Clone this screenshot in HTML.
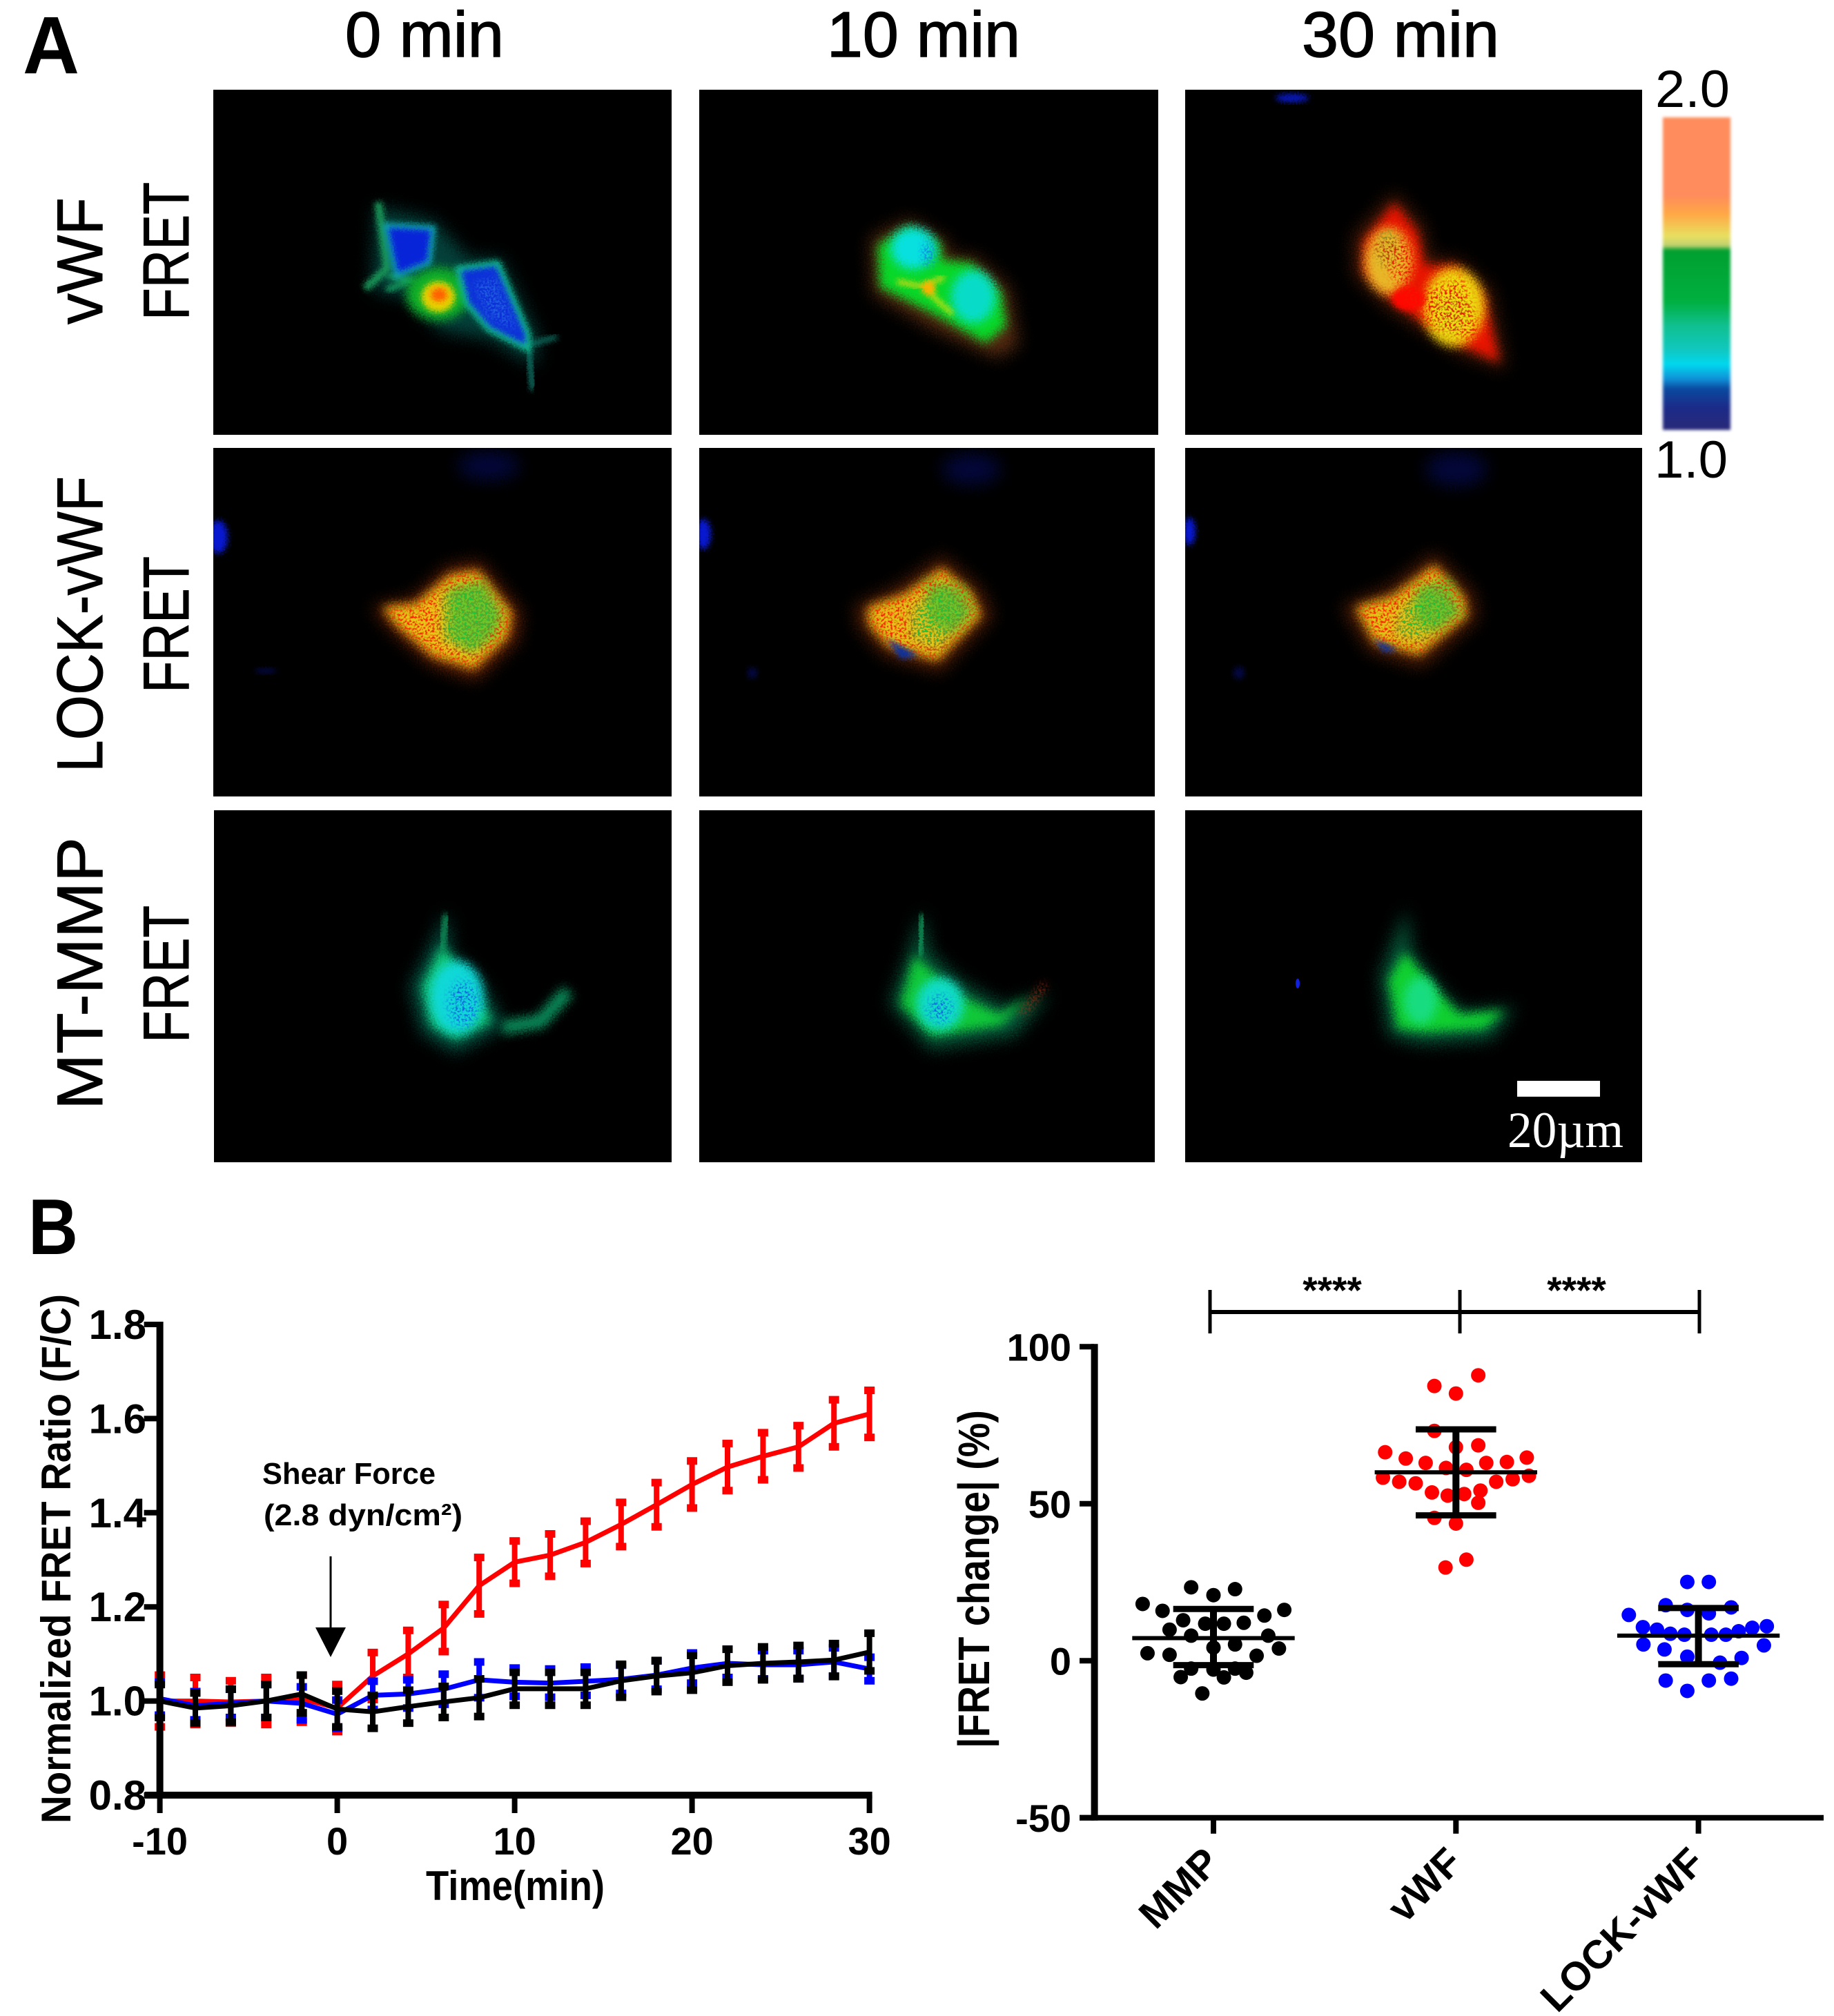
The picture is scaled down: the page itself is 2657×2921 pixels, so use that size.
<!DOCTYPE html>
<html lang="en">
<head>
<meta charset="utf-8">
<title>FRET imaging and quantification under shear force</title>
<style>
html,body{margin:0;padding:0;background:#fff;width:2657px;height:2921px;overflow:hidden}
svg{display:block}
text{font-family:"Liberation Sans",sans-serif;fill:#000}
.hdr{font-size:93px;stroke:#000;stroke-width:1.5px}
.row{font-size:94px;stroke:#000;stroke-width:1px}
.tk{font-size:56px;font-weight:bold}
.tky{font-size:60px;font-weight:bold}
.ttl{font-size:60px;font-weight:bold}
</style>
</head>
<body>
<svg id="figure" xmlns="http://www.w3.org/2000/svg" width="2657" height="2921" viewBox="0 0 2657 2921">
<defs>
<filter id="b2" x="-30%" y="-30%" width="160%" height="160%" color-interpolation-filters="sRGB"><feGaussianBlur stdDeviation="2"/></filter>
<filter id="b4" x="-30%" y="-30%" width="160%" height="160%" color-interpolation-filters="sRGB">
<feGaussianBlur in="SourceGraphic" stdDeviation="4" result="b"/>
<feTurbulence type="fractalNoise" baseFrequency="0.45" numOctaves="1" seed="2" result="n"/>
<feDisplacementMap in="b" in2="n" scale="9" xChannelSelector="R" yChannelSelector="G"/>
</filter>
<filter id="b7" x="-40%" y="-40%" width="180%" height="180%" color-interpolation-filters="sRGB">
<feGaussianBlur in="SourceGraphic" stdDeviation="7" result="b"/>
<feTurbulence type="fractalNoise" baseFrequency="0.45" numOctaves="1" seed="7" result="n"/>
<feDisplacementMap in="b" in2="n" scale="14" xChannelSelector="R" yChannelSelector="G"/>
</filter>
<filter id="b12" x="-50%" y="-50%" width="200%" height="200%" color-interpolation-filters="sRGB">
<feGaussianBlur in="SourceGraphic" stdDeviation="12" result="b"/>
<feTurbulence type="fractalNoise" baseFrequency="0.5" numOctaves="1" seed="5" result="n"/>
<feDisplacementMap in="b" in2="n" scale="20" xChannelSelector="R" yChannelSelector="G"/>
</filter>
<filter id="grain" x="-30%" y="-30%" width="160%" height="160%" color-interpolation-filters="sRGB">
<feGaussianBlur in="SourceGraphic" stdDeviation="6" result="b"/>
<feTurbulence type="fractalNoise" baseFrequency="0.33" numOctaves="2" seed="4" result="n"/>
<feColorMatrix in="n" type="matrix" values="0 0 0 0 0 0 0 0 0 0 0 0 0 0 0 3.2 0 0 0 -1.2" result="a"/>
<feComposite in="b" in2="a" operator="in"/>
</filter>
<filter id="grain2" x="-30%" y="-30%" width="160%" height="160%" color-interpolation-filters="sRGB">
<feGaussianBlur in="SourceGraphic" stdDeviation="7" result="b"/>
<feTurbulence type="fractalNoise" baseFrequency="0.3" numOctaves="2" seed="11" result="n"/>
<feColorMatrix in="n" type="matrix" values="0 0 0 0 0 0 0 0 0 0 0 0 0 0 0 4 0 0 0 -1.8" result="a"/>
<feComposite in="b" in2="a" operator="in"/>
</filter>
<linearGradient id="cbar" x1="0" y1="0" x2="0" y2="1">
<stop offset="0" stop-color="#ff8c5c"/><stop offset=".248" stop-color="#ff8c5c"/><stop offset=".31" stop-color="#ffa845"/><stop offset=".38" stop-color="#e8e060"/><stop offset=".41" stop-color="#c0d070"/><stop offset=".426" stop-color="#00a030"/><stop offset=".59" stop-color="#00b040"/><stop offset=".667" stop-color="#10c090"/><stop offset=".744" stop-color="#10c8c0"/><stop offset=".79" stop-color="#00d8ee"/><stop offset=".837" stop-color="#1090d8"/><stop offset=".868" stop-color="#0a4aa0"/><stop offset=".93" stop-color="#1c2a88"/><stop offset="1" stop-color="#2a2a78"/>
</linearGradient>
</defs>

<rect x="0" y="0" width="2657" height="2921" fill="#fff"/>

<!-- Panel A labels -->
<text x="33" y="106" font-size="118" font-weight="bold" textLength="82" lengthAdjust="spacingAndGlyphs">A</text>
<text class="hdr" x="500" y="82" textLength="230" lengthAdjust="spacingAndGlyphs">0 min</text>
<text class="hdr" x="1198" y="82" textLength="280" lengthAdjust="spacingAndGlyphs">10 min</text>
<text class="hdr" x="1886" y="82" textLength="286" lengthAdjust="spacingAndGlyphs">30 min</text>

<text class="row" transform="translate(148,470) rotate(-90)" textLength="184" lengthAdjust="spacingAndGlyphs">vWF</text>
<text class="row" transform="translate(273,464) rotate(-90)" textLength="200" lengthAdjust="spacingAndGlyphs">FRET</text>
<text class="row" transform="translate(148,1119) rotate(-90)" textLength="429" lengthAdjust="spacingAndGlyphs">LOCK-vWF</text>
<text class="row" transform="translate(273,1004) rotate(-90)" textLength="198" lengthAdjust="spacingAndGlyphs">FRET</text>
<text class="row" transform="translate(148,1608) rotate(-90)" textLength="395" lengthAdjust="spacingAndGlyphs">MT-MMP</text>
<text class="row" transform="translate(273,1511) rotate(-90)" textLength="199" lengthAdjust="spacingAndGlyphs">FRET</text>

<!-- Row 1 col 1 -->
<svg x="309" y="130" width="664" height="500" viewBox="309 130 664 500">
<rect x="309" y="130" width="664" height="500" fill="#000"/>
<polygon points="545,300 628,320 680,375 725,375 780,490 775,530 708,490 640,480 590,430 540,420" fill="#04403a" filter="url(#b12)"/>
<polyline points="548,293 561,389 529,418" fill="none" stroke="#1a9a5a" stroke-width="11" filter="url(#b4)"/>
<polyline points="561,400 600,405 560,420" fill="none" stroke="#15a060" stroke-width="8" filter="url(#b4)"/>
<polyline points="765,500 772,565" fill="none" stroke="#108070" stroke-width="7" filter="url(#b4)"/>
<polyline points="765,500 807,488" fill="none" stroke="#108070" stroke-width="6" filter="url(#b4)"/>
<ellipse cx="635" cy="426" rx="46" ry="38" fill="#10b028" filter="url(#b7)"/>
<ellipse cx="635" cy="430" rx="24" ry="22" fill="#e8d000" filter="url(#b4)"/>
<ellipse cx="636" cy="427" rx="12" ry="10" fill="#ff6000" filter="url(#b4)"/>
<polygon points="558,326 628,330 622,381 574,400 568,374" fill="#0824d8" stroke="#10a8b0" stroke-width="7" stroke-linejoin="round" filter="url(#b4)"/>
<polygon points="663,389 721,381 765,484 765,506 708,477 676,440" fill="#0c30d8" stroke="#10b890" stroke-width="8" stroke-linejoin="round" filter="url(#b4)"/>
<polygon points="685,410 720,400 750,480 705,460" fill="#2060e0" filter="url(#grain)"/>
</svg>

<!-- Row 1 col 2 -->
<svg x="1013" y="130" width="665" height="500" viewBox="1013 130 665 500">
<rect x="1013" y="130" width="665" height="500" fill="#000"/>
<polygon points="1262,345 1317,318 1372,350 1375,372 1412,372 1462,418 1475,500 1445,518 1355,478 1265,425" fill="#552a10" filter="url(#b12)"/>
<polygon points="1272,355 1317,328 1362,352 1365,377 1407,381 1450,423 1458,472 1428,497 1359,458 1275,416" fill="#08d828" filter="url(#b7)"/>
<ellipse cx="1323" cy="360" rx="32" ry="30" fill="#08e0e0" filter="url(#b7)"/>
<ellipse cx="1345" cy="368" rx="10" ry="18" fill="#1080e0" filter="url(#grain)"/>
<ellipse cx="1410" cy="430" rx="32" ry="38" fill="#08dcc8" filter="url(#b7)"/>
<polyline points="1300,408 1335,415 1368,402" fill="none" stroke="#e8d810" stroke-width="6" filter="url(#b4)"/>
<polyline points="1345,410 1352,430 1380,455" fill="none" stroke="#d8e010" stroke-width="6" filter="url(#b4)"/>
<circle cx="1345" cy="418" r="10" fill="#ffb000" filter="url(#b4)"/>
</svg>

<!-- Row 1 col 3 -->
<svg x="1717" y="130" width="662" height="500" viewBox="1717 130 662 500">
<rect x="1717" y="130" width="662" height="500" fill="#000"/>
<ellipse cx="1872" cy="142" rx="24" ry="6" fill="#0818c0" filter="url(#b4)"/>
<polygon points="2020,280 2062,328 2072,376 2112,376 2160,420 2182,535 2110,510 2010,445 1962,398 1962,342" fill="#4c1c08" filter="url(#b12)"/>
<polygon points="2020,295 2052,335 2064,385 2110,385 2150,428 2172,525 2110,497 2018,436 1976,394 1976,350" fill="#e81400" filter="url(#b7)"/>
<ellipse cx="2012" cy="378" rx="34" ry="48" fill="#e8b828" filter="url(#b7)"/>
<ellipse cx="2106" cy="445" rx="44" ry="56" fill="#ecdc10" filter="url(#b7)"/>
<ellipse cx="2012" cy="362" rx="16" ry="24" fill="#20e040" filter="url(#grain2)"/>
<ellipse cx="2105" cy="455" rx="24" ry="28" fill="#60d830" filter="url(#grain2)"/>
<ellipse cx="2041" cy="433" rx="24" ry="17" fill="#ff0800" filter="url(#b4)"/>
<polygon points="1985,350 2050,340 2060,420 2120,400 2150,500 2060,470" fill="#f01800" filter="url(#grain2)"/>
</svg>

<!-- Row 2 col 1 -->
<svg x="309" y="649" width="664" height="505" viewBox="309 649 664 505">
<rect x="309" y="649" width="664" height="505" fill="#000"/>
<ellipse cx="316" cy="778" rx="14" ry="24" fill="#0818d0" filter="url(#b4)"/>
<ellipse cx="708" cy="675" rx="44" ry="20" fill="#03073a" filter="url(#b12)"/>
<ellipse cx="385" cy="972" rx="16" ry="4" fill="#040844" filter="url(#b4)"/>
<polygon points="540,880 599,868 650,822 695,815 754,888 748,928 689,984 625,962 570,914" fill="#6a2408" filter="url(#b12)"/>
<polygon points="555,880 602,876 652,834 692,828 740,888 734,922 686,968 628,950 578,908" fill="#e4c818" filter="url(#b7)"/>
<polygon points="650,850 698,840 730,890 720,925 680,945 650,920" fill="#40c830" opacity=".75" filter="url(#b7)"/>
<polygon points="555,880 602,876 652,834 692,828 740,888 734,922 686,968 628,950 578,908" fill="#ff2000" filter="url(#grain2)"/>
<polygon points="640,860 700,845 725,890 690,950 640,930" fill="#10d040" filter="url(#grain2)"/>
</svg>

<!-- Row 2 col 2 -->
<svg x="1013" y="649" width="660" height="505" viewBox="1013 649 660 505">
<rect x="1013" y="649" width="660" height="505" fill="#000"/>
<ellipse cx="1019" cy="774" rx="11" ry="22" fill="#0818d0" filter="url(#b4)"/>
<ellipse cx="1407" cy="680" rx="42" ry="22" fill="#03073a" filter="url(#b12)"/>
<ellipse cx="1090" cy="975" rx="7" ry="8" fill="#040844" filter="url(#b4)"/>
<polygon points="1238,879 1302,850 1365,806 1420,854 1438,893 1362,973 1282,950 1246,910" fill="#552008" filter="url(#b12)"/>
<polygon points="1258,880 1310,862 1365,824 1406,860 1420,892 1358,956 1288,936 1260,905" fill="#e0c418" filter="url(#b7)"/>
<polygon points="1340,840 1398,850 1412,890 1380,920 1345,900" fill="#40c830" opacity=".75" filter="url(#b7)"/>
<polygon points="1258,880 1310,862 1365,824 1406,860 1420,892 1358,956 1288,936 1260,905" fill="#ff2000" filter="url(#grain2)"/>
<polygon points="1285,925 1330,950 1305,955" fill="#0a30a0" filter="url(#b4)"/>
<polygon points="1320,880 1370,845 1405,885 1360,940 1320,925" fill="#10d040" filter="url(#grain2)"/>
</svg>

<!-- Row 2 col 3 -->
<svg x="1717" y="649" width="662" height="505" viewBox="1717 649 662 505">
<rect x="1717" y="649" width="662" height="505" fill="#000"/>
<ellipse cx="1723" cy="770" rx="9" ry="20" fill="#0818d0" filter="url(#b4)"/>
<ellipse cx="2110" cy="680" rx="44" ry="24" fill="#03073a" filter="url(#b12)"/>
<ellipse cx="1795" cy="975" rx="8" ry="9" fill="#040844" filter="url(#b4)"/>
<polygon points="1945,879 2012,852 2078,802 2134,860 2140,896 2060,966 1985,943" fill="#552008" filter="url(#b12)"/>
<polygon points="1965,880 2018,864 2078,820 2120,866 2124,892 2056,948 1992,930" fill="#e0c418" filter="url(#b7)"/>
<polygon points="2050,850 2100,838 2118,890 2080,915 2050,900" fill="#40c830" opacity=".75" filter="url(#b7)"/>
<polygon points="1965,880 2018,864 2078,820 2120,866 2124,892 2056,948 1992,930" fill="#ff2000" filter="url(#grain2)"/>
<polygon points="1990,925 2025,942 2005,945" fill="#0a30a0" filter="url(#b4)"/>
<polygon points="2030,880 2075,845 2115,885 2060,930 2020,920" fill="#10d040" filter="url(#grain2)"/>
</svg>

<!-- Row 3 col 1 -->
<svg x="310" y="1174" width="663" height="510" viewBox="310 1174 663 510">
<rect x="310" y="1174" width="663" height="510" fill="#000"/>
<polygon points="647,1321 626,1371 596,1429 612,1495 660,1524 730,1486 694,1421 652,1379" fill="#045a48" filter="url(#b12)"/>
<polyline points="728,1489 783,1480 823,1436" fill="none" stroke="#0a8a5a" stroke-width="20" filter="url(#b7)"/>
<polyline points="647,1325 640,1375" fill="none" stroke="#10905a" stroke-width="9" filter="url(#b4)"/>
<polygon points="640,1370 612,1430 625,1485 660,1505 712,1480 684,1425" fill="#10c878" filter="url(#b7)"/>
<ellipse cx="662" cy="1445" rx="38" ry="52" fill="#10d8d8" filter="url(#b7)"/>
<ellipse cx="672" cy="1455" rx="22" ry="34" fill="#1060e0" filter="url(#grain2)"/>
</svg>

<!-- Row 3 col 2 -->
<svg x="1013" y="1174" width="660" height="510" viewBox="1013 1174 660 510">
<rect x="1013" y="1174" width="660" height="510" fill="#000"/>
<polygon points="1337,1321 1313,1393 1290,1454 1348,1520 1470,1500 1520,1440 1452,1458 1388,1420 1345,1379" fill="#06583a" filter="url(#b12)"/>
<polyline points="1337,1325 1332,1385" fill="none" stroke="#10985a" stroke-width="9" filter="url(#b4)"/>
<polygon points="1325,1385 1305,1455 1350,1500 1450,1485 1490,1445 1448,1470 1385,1440" fill="#10c838" filter="url(#b7)"/>
<ellipse cx="1362" cy="1455" rx="34" ry="38" fill="#10dcc8" filter="url(#b7)"/>
<ellipse cx="1362" cy="1462" rx="18" ry="20" fill="#1060e0" filter="url(#grain2)"/>
<polyline points="1480,1470 1515,1425" fill="none" stroke="#c02810" stroke-width="8" filter="url(#grain)"/>
</svg>

<!-- Row 3 col 3 -->
<svg x="1717" y="1174" width="662" height="510" viewBox="1717 1174 662 510">
<rect x="1717" y="1174" width="662" height="510" fill="#000"/>
<ellipse cx="1880" cy="1425" rx="3" ry="7" fill="#1020e0"/>
<polygon points="2037,1318 2000,1414 2012,1500 2060,1512 2160,1505 2195,1460 2118,1465 2092,1440 2045,1379" fill="#06583a" filter="url(#b12)"/>
<polyline points="2037,1322 2037,1390" fill="none" stroke="#10985a" stroke-width="9" filter="url(#b4)"/>
<polygon points="2035,1380 2012,1420 2025,1490 2065,1495 2150,1490 2180,1465 2115,1470 2085,1440" fill="#10d030" filter="url(#b7)"/>
<ellipse cx="2058" cy="1450" rx="24" ry="34" fill="#18dc80" filter="url(#b7)"/>
</svg>

<rect x="2198" y="1566" width="120" height="23" fill="#fff"/>
<text x="2184" y="1662" font-size="74" style="font-family:'Liberation Serif',serif;fill:#fff" textLength="168" lengthAdjust="spacingAndGlyphs">20µm</text>

<!-- Color bar -->
<rect x="2409" y="170" width="98" height="453" fill="url(#cbar)" filter="url(#b2)"/>
<text x="2398" y="155" font-size="76" textLength="108" lengthAdjust="spacingAndGlyphs">2.0</text>
<text x="2397" y="692" font-size="76" textLength="106" lengthAdjust="spacingAndGlyphs">1.0</text>

<!-- Panel B -->
<text x="41" y="1817" font-size="114" font-weight="bold" textLength="72" lengthAdjust="spacingAndGlyphs">B</text>

<g id="line-chart">
<text class="ttl" transform="translate(102,2642) rotate(-90)" textLength="767" lengthAdjust="spacingAndGlyphs">Normalized FRET Ratio (F/C)</text>
<text class="ttl" x="617" y="2753" textLength="259" lengthAdjust="spacingAndGlyphs">Time(min)</text>
<text x="380" y="2150" font-size="44" font-weight="bold" textLength="251" lengthAdjust="spacingAndGlyphs">Shear Force</text>
<text x="382" y="2210" font-size="44" font-weight="bold" textLength="288" lengthAdjust="spacingAndGlyphs">(2.8 dyn/cm²)</text>
<line x1="479" y1="2255" x2="479" y2="2365" stroke="#000" stroke-width="3"/>
<polygon points="457,2358 501,2358 479,2401" fill="#000"/>
</g>

<g id="scatter-chart">
<text class="ttl" style="font-size:64px" transform="translate(1433,2533) rotate(-90)" textLength="490" lengthAdjust="spacingAndGlyphs">|FRET change| (%)</text>
<g>
<line x1="1753" y1="1901" x2="2462" y2="1901" stroke="#000" stroke-width="6"/>
<line x1="1756" y1="1869" x2="1756" y2="1932" stroke="#000" stroke-width="5" transform="translate(-3,0)"/>
<line x1="2118" y1="1869" x2="2118" y2="1932" stroke="#000" stroke-width="5" transform="translate(-3,0)"/>
<line x1="2465" y1="1869" x2="2465" y2="1932" stroke="#000" stroke-width="5" transform="translate(-3,0)"/>
<text x="1930" y="1888" font-size="55" font-weight="bold" text-anchor="middle">****</text>
<text x="2284" y="1888" font-size="55" font-weight="bold" text-anchor="middle">****</text>
</g>
</g>
</svg>

<script>
/* Line chart data */
const timeMinutes = [-10,-8,-6,-4,-2,0,2,4,6,8,10,12,14,16,18,20,22,24,26,28,30];
const redMeans   = [1.0,1.0,0.998,1.0,1.005,0.985,1.053,1.1,1.155,1.245,1.295,1.31,1.337,1.375,1.417,1.46,1.497,1.52,1.54,1.59,1.61];
const redErrors  = [0.055,0.05,0.045,0.05,0.05,0.05,0.05,0.05,0.05,0.06,0.045,0.045,0.045,0.047,0.047,0.05,0.05,0.05,0.045,0.05,0.05];
const blueMeans  = [1.005,0.99,0.995,1.0,0.995,0.972,1.012,1.015,1.025,1.045,1.04,1.038,1.042,1.046,1.055,1.07,1.08,1.077,1.077,1.083,1.068];
const blueErrors = [0.035,0.03,0.03,0.035,0.035,0.03,0.03,0.03,0.032,0.038,0.03,0.03,0.03,0.03,0.03,0.032,0.03,0.03,0.03,0.03,0.025];
const blackMeans = [1.0,0.985,0.99,1.0,1.015,0.983,0.977,0.988,0.998,1.007,1.026,1.026,1.026,1.043,1.053,1.06,1.075,1.08,1.083,1.087,1.104];
const blackErrors= [0.035,0.032,0.035,0.035,0.04,0.038,0.035,0.035,0.033,0.04,0.035,0.035,0.035,0.035,0.033,0.037,0.035,0.035,0.035,0.035,0.04];
const lineYTickLabels = ['0.8','1.0','1.2','1.4','1.6','1.8'];
const lineXTickLabels = ['-10','0','10','20','30'];

/* Scatter chart data */
const categoryLabels = ['MMP','vWF','LOCK-vWF'];
const mmpValues  = [23.4,22.8,20.9,18.1,15.9,16.2,14.4,12.9,11.8,11.8,12.1,9.9,8.0,8.0,5.2,4.2,3.9,2.4,1.9,1.6,-2.5,-2.8,-2.5,-5.2,-5.3,-3.8,-10.4];
const mmpJitter  = [-.092,.089,0,-.292,-.21,.292,.21,-.125,-.034,.043,.125,-.181,-.092,.226,.089,0,.27,-.272,-.181,.178,-.092,0,.089,-.135,.043,.135,-.046];
const vwfValues  = [90.9,87.5,85.1,73.2,68.0,68.6,66.4,64.4,64.7,63.0,63.0,63.3,61.4,60.8,58.3,57.0,56.5,58.9,57.8,57.0,53.6,52.6,53.1,54.2,50.3,45.5,43.7,32.2,29.7];
const vwfJitter  = [.092,-.089,0,-.089,0,.092,-.292,-.207,.292,-.125,.125,.21,-.041,.043,-.301,-.234,-.166,.301,.234,.166,-.099,-.034,.034,.101,.092,-.089,0,.043,-.043];
const lockValues = [25.1,25.1,17.7,17.0,16.2,15.1,14.6,10.7,9.9,11.0,10.5,9.4,8.6,8.3,8.3,8.3,5.2,4.9,3.6,1.3,0.9,-0.6,-6.3,-5.7,-6.3,-9.6];
const lockJitter = [-.046,.043,-.135,.135,-.046,.043,-.287,-.229,-.171,.282,.222,.166,-.116,-.058,.053,.113,-.227,.27,-.14,-.046,.178,.089,-.135,.135,.043,-.046];
const groupMeans = [7.2,60.0,8.0];
const groupUpper = [16.5,73.7,16.8];
const groupLower = [-1.4,46.3,-1.1];
const scatterYTickLabels = ['-50','0','50','100'];

const NS = 'http://www.w3.org/2000/svg';
function mk(parent, tag, attrs, text) {
  const el = document.createElementNS(NS, tag);
  for (const k in attrs) el.setAttribute(k, attrs[k]);
  if (text !== undefined) el.textContent = text;
  parent.appendChild(el);
  return el;
}

/* Line chart axis functions */
function xTime(t) { return 231.6 + (t + 10) * 25.7; }
function yRatio(v) { return 2601 - (v - 0.8) * 682; }

const lineChart = document.getElementById('line-chart');

function drawSeries(name, color, means, errors) {
  const g = mk(lineChart, 'g', {});
  
  
  const pts = means.map(function (v, i) { return xTime(timeMinutes[i]) + ',' + yRatio(v); }).join(' ');
  const line = mk(g, 'polyline', {points: pts, fill: 'none', stroke: color, 'stroke-width': 7, 'stroke-linejoin': 'round'});
  
  
  means.forEach(function (v, i) {
    const x = xTime(timeMinutes[i]);
    const top = yRatio(v + errors[i]);
    const bot = yRatio(v - errors[i]);
    const bar = mk(g, 'g', {});
    
    
    mk(bar, 'line', {x1: x, y1: top, x2: x, y2: bot, stroke: color, 'stroke-width': 8});
    mk(bar, 'line', {x1: x - 7.5, y1: top, x2: x + 7.5, y2: top, stroke: color, 'stroke-width': 11});
    mk(bar, 'line', {x1: x - 7.5, y1: bot, x2: x + 7.5, y2: bot, stroke: color, 'stroke-width': 11});
  });
}
drawSeries('vwf', '#ff0000', redMeans, redErrors);
drawSeries('lock-vwf', '#0000ff', blueMeans, blueErrors);
drawSeries('mmp', '#000000', blackMeans, blackErrors);

const lineYAxis = mk(lineChart, 'line', {x1: xTime(-10), y1: yRatio(1.8) - 4, x2: xTime(-10), y2: yRatio(0.8) + 5, stroke: '#000', 'stroke-width': 10});


const lineXAxis = mk(lineChart, 'line', {x1: xTime(-10) - 22, y1: yRatio(0.8), x2: xTime(30) + 4, y2: yRatio(0.8), stroke: '#000', 'stroke-width': 10});



lineYTickLabels.forEach(function (lab) {
  const y = yRatio(parseFloat(lab));
  const tick = mk(lineChart, 'line', {x1: xTime(-10) - 23, y1: y, x2: xTime(-10), y2: y, stroke: '#000', 'stroke-width': 8});
  
  
  const t = mk(lineChart, 'text', {x: 212, y: y + 21, class: 'tky', 'text-anchor': 'end'}, lab);
  
  
});
lineXTickLabels.forEach(function (lab) {
  const x = xTime(parseFloat(lab));
  const tick = mk(lineChart, 'line', {x1: x, y1: yRatio(0.8), x2: x, y2: yRatio(0.8) + 26, stroke: '#000', 'stroke-width': 8});
  
  
  const t = mk(lineChart, 'text', {x: x, y: 2687, class: 'tk', 'text-anchor': 'middle'}, lab);
  
  
});

/* Scatter chart axis functions */
function xCat(c) { return 1758 + c * 351.3; }
function yPct(v) { return 2406.3 - v * 4.55; }

const scatterChart = document.getElementById('scatter-chart');

function drawGroup(c, name, color, values, jitter) {
  const g = mk(scatterChart, 'g', {});
  
  
  values.forEach(function (v, i) {
    const dot = mk(g, 'circle', {cx: xCat(c + jitter[i]), cy: yPct(v), r: 10.5, fill: color});
    
    
  });
  const x = xCat(c);
  const stats = mk(g, 'g', {});
  
  
  mk(stats, 'line', {x1: xCat(c - .335), y1: yPct(groupMeans[c]), x2: xCat(c + .335), y2: yPct(groupMeans[c]), stroke: '#000', 'stroke-width': 6});
  mk(stats, 'line', {x1: x, y1: yPct(groupUpper[c]), x2: x, y2: yPct(groupLower[c]), stroke: '#000', 'stroke-width': 10});
  mk(stats, 'line', {x1: xCat(c - .166), y1: yPct(groupUpper[c]), x2: xCat(c + .166), y2: yPct(groupUpper[c]), stroke: '#000', 'stroke-width': 9});
  mk(stats, 'line', {x1: xCat(c - .166), y1: yPct(groupLower[c]), x2: xCat(c + .166), y2: yPct(groupLower[c]), stroke: '#000', 'stroke-width': 9});
}
drawGroup(0, 'mmp', '#000000', mmpValues, mmpJitter);
drawGroup(1, 'vwf', '#ff0000', vwfValues, vwfJitter);
drawGroup(2, 'lock-vwf', '#0000ff', lockValues, lockJitter);

const scatterYAxis = mk(scatterChart, 'line', {x1: 1585.6, y1: yPct(100) - 4, x2: 1585.6, y2: yPct(-50) + 4, stroke: '#000', 'stroke-width': 10});


const scatterXAxis = mk(scatterChart, 'line', {x1: 1564, y1: yPct(-50), x2: 2642, y2: yPct(-50), stroke: '#000', 'stroke-width': 8});



scatterYTickLabels.forEach(function (lab) {
  const y = yPct(parseFloat(lab));
  const tick = mk(scatterChart, 'line', {x1: 1564, y1: y, x2: 1585, y2: y, stroke: '#000', 'stroke-width': 8});
  
  
  const t = mk(scatterChart, 'text', {x: 1552, y: y + 20, class: 'tk', 'text-anchor': 'end'}, lab);
  
  
});
categoryLabels.forEach(function (lab, c) {
  const x = xCat(c);
  const tick = mk(scatterChart, 'line', {x1: x, y1: yPct(-50), x2: x, y2: yPct(-50) + 23, stroke: '#000', 'stroke-width': 8});
  
  
  const t = mk(scatterChart, 'text', {transform: 'translate(' + (x + 12) + ',' + (yPct(-50) + 68) + ') rotate(-45)', 'font-size': 58, 'font-weight': 'bold', 'text-anchor': 'end'}, lab);
  
  
});
</script>
</body>
</html>
